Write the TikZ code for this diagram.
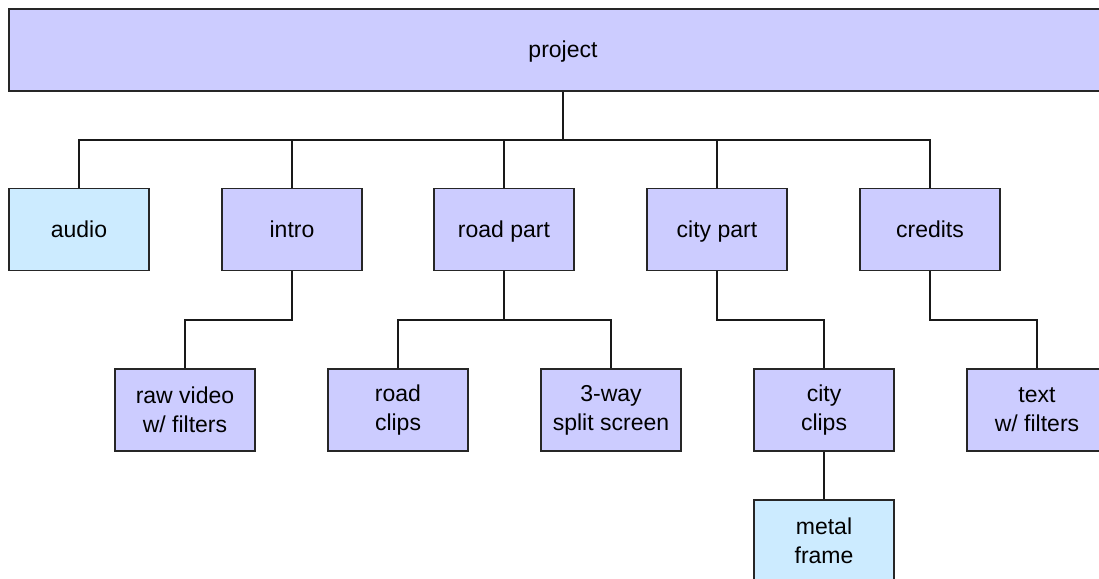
\documentclass[tikz,border=0pt]{standalone}
\usepackage{fontspec}
\setmainfont{Liberation Sans}
\definecolor{lav}{RGB}{204,204,255}
\definecolor{skyb}{RGB}{204,235,255}
\begin{document}
\begin{tikzpicture}[x=1pt,y=-1pt,
  box/.style={draw=black!85, line width=1.5pt, fill=lav, minimum width=140pt, minimum height=82pt, inner sep=0pt, align=center, font=\fontsize{23}{29}\selectfont},
  leaf/.style={box, fill=skyb},
  oneline/.style={text height=17pt, text depth=2pt},
  conn/.style={draw=black!90, line width=1.5pt}]
\useasboundingbox (0,0) rectangle (1099,578);
\clip (0,0) rectangle (1099,578);
\node[box, oneline, minimum width=1108pt] (project) at (563,50) {project};
\node[leaf, oneline] (audio) at (79,229.5) {audio};
\node[box, oneline] (intro) at (292,229.5) {intro};
\node[box, oneline] (road) at (504,229.5) {road part};
\node[box, oneline] (city) at (717,229.5) {city part};
\node[box, oneline] (credits) at (930,229.5) {credits};
\node[box] (raw) at (185,410) {raw video\\w/ filters};
\node[box] (roadclips) at (398,410) {road\\clips};
\node[box] (split) at (611,410) {3-way\\split screen};
\node[box] (cityclips) at (824,410) {city\\clips};
\node[box] (text) at (1037,410) {text\\w/ filters};
\node[leaf] (metal) at (824,541) {metal\\frame};
\coordinate (bus1) at (563,140);
\coordinate (bus2) at (0,320);
\draw[conn] (project.south) -- (bus1);
\draw[conn] (audio.north) |- (bus1) -| (credits.north);
\draw[conn] (intro.north) -- (intro.north |- bus1);
\draw[conn] (road.north) -- (road.north |- bus1);
\draw[conn] (city.north) -- (city.north |- bus1);
\draw[conn] (intro.south) -- (intro.south |- bus2) -| (raw.north);
\draw[conn] (roadclips.north) |- (road.south |- bus2) -| (split.north);
\draw[conn] (road.south) -- (road.south |- bus2);
\draw[conn] (city.south) -- (city.south |- bus2) -| (cityclips.north);
\draw[conn] (credits.south) -- (credits.south |- bus2) -| (text.north);
\draw[conn] (cityclips.south) -- (metal.north);
\end{tikzpicture}
\end{document}
